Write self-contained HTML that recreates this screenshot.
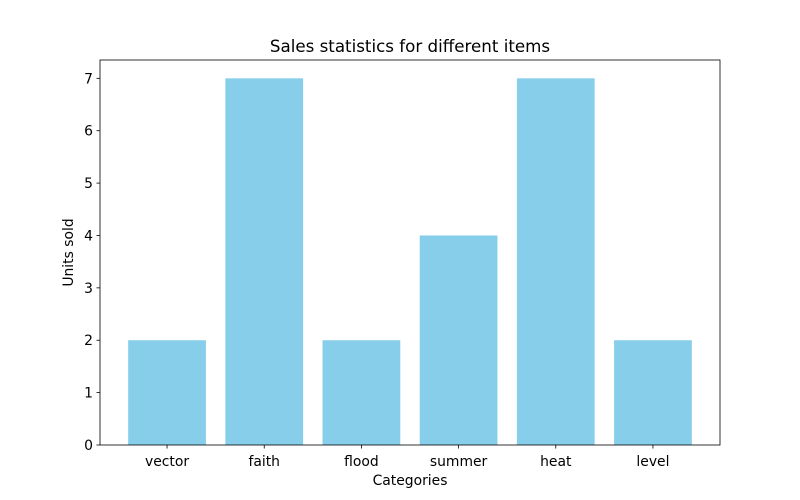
<!DOCTYPE html>
<html><head><meta charset="utf-8"><style>
body{margin:0;background:#fff;}
svg{display:block;font-family:"DejaVu Sans","Liberation Sans",sans-serif;}
</style></head><body>
<svg id="chart" width="800" height="500" xmlns="http://www.w3.org/2000/svg">
<rect width="800" height="500" fill="#fff"/>
<text x="410" y="52" font-size="16.7" text-anchor="middle" fill="#000">Sales statistics for different items</text>
<text x="410" y="485" font-size="13.9" text-anchor="middle" fill="#000">Categories</text>
<text x="0" y="0" font-size="13.9" text-anchor="middle" fill="#000" transform="translate(73,252.5) rotate(-90)">Units sold</text>
<g id="bars"></g>
<g id="axes"></g>
</svg>
<script>
const categories = ["vector","faith","flood","summer","heat","level"];
const values = [2,7,2,4,7,2];
const yTicks = [0,1,2,3,4,5,6,7];

const L=100,R=720,T=60,B=445;
const xMin=-0.69,xMax=5.69,yMax=7.35;
const xs=v=>L+(v-xMin)/(xMax-xMin)*(R-L);
const ys=v=>B-v/yMax*(B-T);
const NS="http://www.w3.org/2000/svg";
const bars=document.getElementById('bars');
const axes=document.getElementById('axes');
function mk(tag,attrs,parent){const e=document.createElementNS(NS,tag);for(const k in attrs)e.setAttribute(k,attrs[k]);parent.appendChild(e);return e;}

values.forEach((v,i)=>{
  const x0=xs(i-0.4),x1=xs(i+0.4);
  const r=mk('rect',{x:x0,y:ys(v),width:x1-x0,height:ys(0)-ys(v),fill:'#87ceeb'},bars);
  
  
  const t=mk('line',{x1:xs(i),x2:xs(i),y1:B,y2:B+3.5,stroke:'#000','stroke-width':0.8},axes);
  
  
  const lb=mk('text',{x:xs(i),y:B+21,'font-size':13.9,'text-anchor':'middle',fill:'#000'},axes);
  lb.textContent=categories[i];
  
  
});
yTicks.forEach(v=>{
  const y=ys(v);
  const t=mk('line',{x1:L-3.5,x2:L,y1:y,y2:y,stroke:'#000','stroke-width':0.8},axes);
  
  
  const lb=mk('text',{x:L-7,y:y+5,'font-size':13.9,'text-anchor':'end',fill:'#000'},axes);
  lb.textContent=v;
  
  
});
const frame=mk('rect',{x:L,y:T,width:R-L,height:B-T,fill:'none',stroke:'#000','stroke-width':0.8},axes);


</script>
</body></html>
